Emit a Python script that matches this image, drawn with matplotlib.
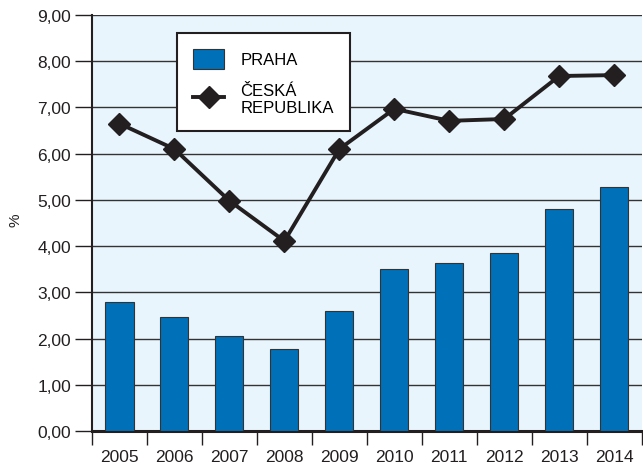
import numpy as np
import matplotlib.pyplot as plt
from matplotlib.ticker import FixedLocator, FuncFormatter

plt.rcParams['font.family'] = ['Liberation Sans', 'DejaVu Sans']

years = ["2005", "2006", "2007", "2008", "2009", "2010", "2011", "2012", "2013", "2014"]
praha = [2.80, 2.47, 2.05, 1.77, 2.60, 3.50, 3.63, 3.85, 4.80, 5.28]
cr = [6.65, 6.10, 4.98, 4.11, 6.10, 6.97, 6.71, 6.75, 7.68, 7.70]

fig = plt.figure(figsize=(6.43, 4.64), dpi=100)
ax = fig.add_axes([92 / 643, 1 - 432 / 464, 1 - 92 / 643 - 0.002, 416 / 464])
ax.set_facecolor("#e9f5fc")

x = np.arange(len(years))
bars = ax.bar(x, praha, width=0.51, color="#0070b8", edgecolor="#333333", linewidth=0.8,
              label="PRAHA", zorder=3)
line, = ax.plot(x, cr, color="#231f20", linewidth=2.8, marker="D", markersize=11,
                label="ČESKÁ\nREPUBLIKA", zorder=4)

ax.set_xlim(-0.5, len(years) - 0.5)
ax.set_ylim(0, 9)
ax.set_yticks(np.arange(0, 10, 1))
ax.yaxis.set_major_formatter(FuncFormatter(lambda v, p: f"{v:.2f}".replace(".", ",")))
ax.grid(axis="y", color="#333333", linewidth=1.0, zorder=1)

ax.set_xticks(x)
ax.set_xticklabels(years)
ax.xaxis.set_minor_locator(FixedLocator(np.arange(-0.5, len(years), 1)))
ax.tick_params(axis="x", which="major", length=0, pad=13, labelsize=12.5, colors="#231f20")
ax.tick_params(axis="x", which="minor", length=10, width=1.0, color="#231f20")
ax.tick_params(axis="y", length=12, width=1.0, pad=3, labelsize=12.5, colors="#231f20")

for s in ["top", "right"]:
    ax.spines[s].set_visible(False)
ax.spines["left"].set_linewidth(1.5)
ax.spines["bottom"].set_linewidth(2.2)
ax.spines["left"].set_color("#231f20")
ax.spines["bottom"].set_color("#231f20")

ax.set_ylabel("%", fontsize=11, color="#231f20")
ax.yaxis.set_label_coords(-0.126, 0.51)

leg = ax.legend([bars, line], ["PRAHA", "ČESKÁ\nREPUBLIKA"],
                loc="upper left", bbox_to_anchor=(85 / 550, 1 - 18 / 416),
                borderaxespad=0,
                frameon=True, fancybox=False, edgecolor="#231f20", framealpha=1,
                fontsize=12, handlelength=1.9, handleheight=1.45,
                borderpad=0.95, labelspacing=0.85, handletextpad=0.95)
leg.get_frame().set_linewidth(1.5)

fig.savefig("out.png", dpi=100)
